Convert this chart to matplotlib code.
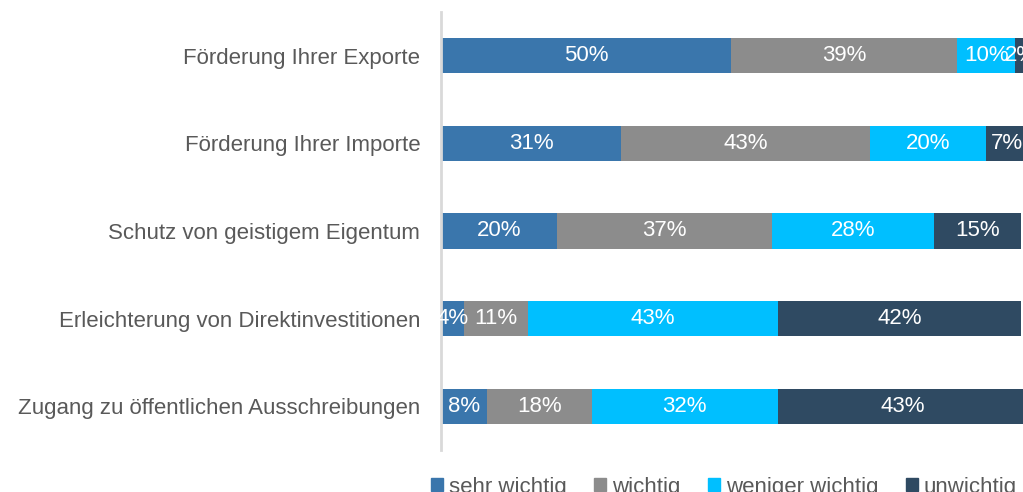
import matplotlib
matplotlib.use("Agg")
import matplotlib.pyplot as plt
from matplotlib.patches import Patch

categories = ["Förderung Ihrer Exporte", "Förderung Ihrer Importe",
              "Schutz von geistigem Eigentum", "Erleichterung von Direktinvestitionen",
              "Zugang zu öffentlichen Ausschreibungen"]
series_names = ["sehr wichtig", "wichtig", "weniger wichtig", "unwichtig"]
sehr_wichtig = [50, 31, 20, 4, 8]
wichtig = [39, 43, 37, 11, 18]
weniger_wichtig = [10, 20, 28, 43, 32]
unwichtig = [2, 7, 15, 42, 43]
colors = ["#3A76AC", "#8C8C8C", "#00BFFF", "#2F4A62"]

plt.rcParams['font.family'] = ['Liberation Sans', 'DejaVu Sans']
W, H = 1023, 492
fig = plt.figure(figsize=(W/100, H/100), dpi=100)
ax = fig.add_axes([441/W, 1-450/H, (W-441)/W, 438/H])

data = [sehr_wichtig, wichtig, weniger_wichtig, unwichtig]
y = list(range(len(categories)))
left = [0]*len(categories)
for vals, col in zip(data, colors):
    ax.barh(y, vals, left=left, height=0.4, color=col)
    for yi, (l, v) in enumerate(zip(left, vals)):
        ax.text(l + v/2, yi, f"{v}%", ha='center', va='center',
                color='white', fontsize=16, clip_on=False)
    left = [a+b for a, b in zip(left, vals)]

ax.set_xlim(0, 100.3)
ax.set_ylim(4.5, -0.5)
ax.set_yticks(y)
ax.set_yticklabels(categories, fontsize=16, color='#595959')
ax.tick_params(axis='y', length=0, pad=15)
ax.set_xticks([])
for s in ['top', 'right', 'bottom']:
    ax.spines[s].set_visible(False)
ax.spines['left'].set_color('#D9D9D9')
ax.spines['left'].set_linewidth(2)

handles = [Patch(color=c) for c in colors]
fig.legend(handles, series_names, loc='center', bbox_to_anchor=(724/W, 1-487/H),
           ncol=4, frameon=False, fontsize=16, handlelength=0.55, handleheight=0.55,
           handletextpad=0.25, columnspacing=1.25, labelcolor='#595959')

fig.savefig("out.png", dpi=100)
